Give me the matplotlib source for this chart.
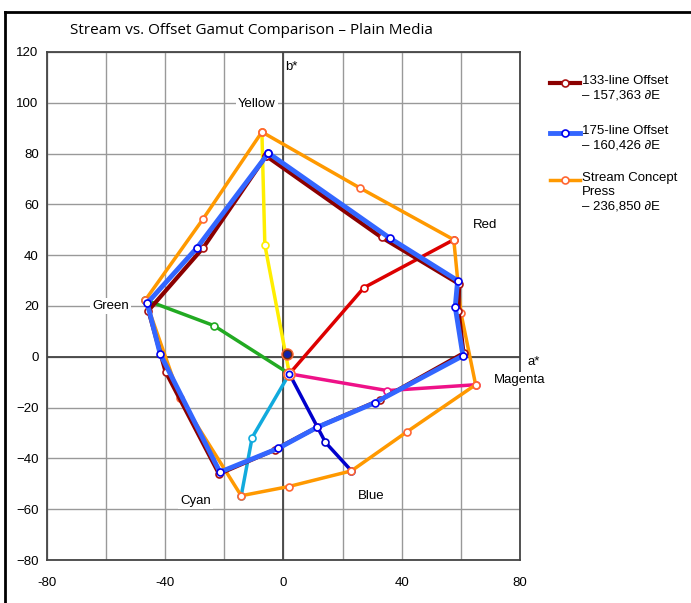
import matplotlib.pyplot as plt
from matplotlib.lines import Line2D

# Gamut polygons in a*/b*, ordered Y, Y-G, G, G-C, C, C-B, B, B-M, M, M-R, R, R-Y (closed back to Y)
a_133 = [-5.9, -27.1, -45.7, -39.9, -21.8, -3.0, 11.5, 32.5, 60.9, 59.2, 59.4, 33.2, -5.9]
b_133 = [79.1, 43.0, 18.2, -5.8, -46.1, -36.6, -27.7, -17.1, 1.4, 18.2, 28.7, 47.0, 79.1]

a_175 = [-5.1, -29.2, -46.1, -41.7, -21.5, -1.7, 11.5, 30.9, 60.7, 58.1, 58.9, 36.0, -5.1]
b_175 = [80.2, 43.0, 21.1, 1.1, -45.4, -36.0, -27.7, -18.1, 0.4, 19.6, 30.0, 46.7, 80.2]

a_stream = [-7.3, -27.3, -46.7, -35.0, -14.3, 1.7, 23.0, 41.8, 65.0, 60.0, 57.6, 25.8, -7.3]
b_stream = [88.5, 54.1, 22.4, -16.3, -54.7, -51.1, -44.9, -29.5, -11.0, 17.4, 46.1, 66.5, 88.5]

# Stream primaries/secondaries drawn out from the neutral point
center = (2.0, -6.7)
paper_white = (1.3, 1.2)
spokes = {
    'Yellow':  ('#ffee00', [-6.3, -7.3], [44.0, 88.5]),
    'Green':   ('#22aa22', [-23.6, -46.7], [12.3, 22.4]),
    'Cyan':    ('#11aadd', [-10.6, -14.3], [-31.8, -54.7]),
    'Blue':    ('#0000cc', [14.2, 23.0], [-33.7, -44.9]),
    'Magenta': ('#ee1188', [35.1, 65.0], [-13.3, -11.0]),
    'Red':     ('#dd0000', [27.2, 57.6], [27.2, 46.1]),
}

# Where each colour name is written
label_pos = {
    'Yellow': (-9.1, 99.6), 'Green': (-58.5, 20.1), 'Red': (68.3, 52.0),
    'Magenta': (80.0, -9.1), 'Cyan': (-29.8, -56.7), 'Blue': (29.8, -54.7),
}

ticks_x = [-80, -40, 0, 40, 80]
ticks_y = [-80, -60, -40, -20, 0, 20, 40, 60, 80, 100, 120]

c_133 = '#8b0000'
c_175 = '#3366ff'
c_stream = '#ff9900'

plt.rcParams['font.family'] = ['Liberation Sans', 'DejaVu Sans']

fig = plt.figure(figsize=(6.91, 6.03), dpi=100)
ax = fig.add_axes([0.068, 0.0713, 0.6845, 0.8425])

# outer frame, only left and top edges show
fig.add_artist(Line2D([5 / 691, 5 / 691], [-0.1, 1 - 12 / 603], transform=fig.transFigure,
                      color='black', lw=2))
fig.add_artist(Line2D([5 / 691, 1.1], [1 - 12 / 603, 1 - 12 / 603], transform=fig.transFigure,
                      color='black', lw=2))

ax.set_xlim(-80, 80)
ax.set_ylim(-80, 120)
ax.set_yticks(ticks_y)
ax.set_xticks(range(-80, 81, 20))
ax.set_xticklabels([str(v) if v in ticks_x else '' for v in range(-80, 81, 20)])
ax.grid(True, color='#999999', lw=1)
ax.axhline(0, color='#444444', lw=1.3, zorder=1)
ax.axvline(0, color='#444444', lw=1.3, zorder=1)
ax.tick_params(length=0, labelsize=9.5, pad=6)
ax.tick_params(axis='x', pad=12)
for s in ax.spines.values():
    s.set_color('#444444')
    s.set_linewidth(1.3)
ax.set_axisbelow(True)

mk = dict(marker='o', markersize=5, markerfacecolor='white', markeredgewidth=1.2)

# secondary spokes from the centre
for name, (col, xs, ys) in spokes.items():
    ax.plot([center[0]] + xs, [center[1]] + ys, color=col, lw=2.5, zorder=3,
            markeredgecolor=col, **mk)

ax.plot(a_stream, b_stream, color=c_stream, lw=2.5, zorder=4, markeredgecolor='#ff6633', **mk)
ax.plot(a_175, b_175, color=c_175, lw=3.5, zorder=5, markeredgecolor='#0000ee', **mk)
ax.plot(a_133, b_133, color=c_133, lw=3, zorder=4.5, markeredgecolor='#aa1111', **mk)

# neutral markers
ax.plot(*paper_white, 'o', color='#6b2a10', markeredgecolor='#ff6633', markersize=8, zorder=6)
ax.plot(*paper_white, 'o', color='#1122aa', markersize=4, zorder=7)
ax.plot(*center, 'o', color='white', markeredgecolor='#ff6633', markersize=8,
        markeredgewidth=1.3, zorder=6)
ax.plot(*center, 'o', color='white', markeredgecolor='#0000ee', markersize=4.5,
        markeredgewidth=1.2, zorder=7)

for name, (x, y) in label_pos.items():
    ax.text(x, y, name, ha='center', va='center', fontsize=9.5, zorder=8,
            bbox=dict(facecolor='white', edgecolor='none', pad=1.5))

ax.text(84.5, -2, 'a*', ha='center', va='center', fontsize=9.5, clip_on=False)
ax.text(2.8, 114, 'b*', ha='center', va='center', fontsize=9.5)

fig.text(70 / 691, 1 - 31 / 603, 'Stream vs. Offset Gamut Comparison \u2013 Plain Media',
         ha='left', va='center', fontsize=11, family=['Open Sans', 'DejaVu Sans'])

# legend drawn by hand so the swatch sits beside the first text line
legend_rows = [
    (83, c_133, '#aa1111', 3, '133-line Offset\n\u2013 157,363 \u2202E'),
    (133, c_175, '#0000ee', 3.5, '175-line Offset\n\u2013 160,426 \u2202E'),
    (180, c_stream, '#ff6633', 2.5, 'Stream Concept\nPress\n\u2013 236,850 \u2202E'),
]
for y_px, col, edge, lw, txt in legend_rows:
    yf = 1 - y_px / 603
    fig.add_artist(Line2D([550 / 691, 580 / 691], [yf, yf], transform=fig.transFigure,
                          color=col, lw=lw))
    fig.add_artist(Line2D([565 / 691], [yf], transform=fig.transFigure, marker='o',
                          markersize=5, markerfacecolor='white', markeredgecolor=edge,
                          markeredgewidth=1.2))
    fig.text(582 / 691, yf + 8 / 603, txt, ha='left', va='top', fontsize=9.5,
             linespacing=1.25)

fig.savefig('out.png', dpi=100)
